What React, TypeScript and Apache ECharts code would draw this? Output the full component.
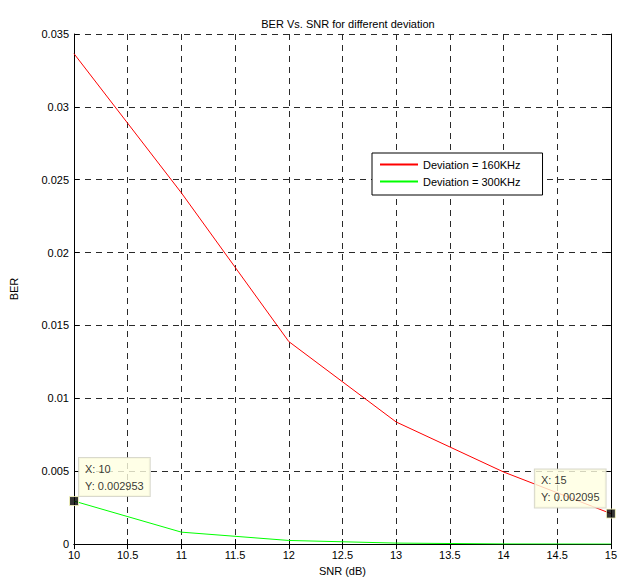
import React, { useEffect, useRef } from "react";
import * as echarts from "echarts";

const snr = [10, 11, 12, 13, 14, 15];
const ber160 = [0.03365, 0.0241, 0.0139, 0.00838, 0.00495, 0.002095];
const ber300 = [0.002953, 0.00082, 0.00025, 0.00007, 0.000012, 0.0000015];
const series160Name = "Deviation = 160KHz";
const series300Name = "Deviation = 300KHz";
const tipPoints = [
  { x: 10, y: 0.002953, label: "X: 10\nY: 0.002953" },
  { x: 15, y: 0.002095, label: "X: 15\nY: 0.002095" },
];

const FONT = "Liberation Sans, Arial, Helvetica, sans-serif";

export default function App() {
  const ref = useRef<HTMLDivElement>(null);
  useEffect(() => {
    if (!ref.current) return;
    const chart = echarts.init(ref.current, undefined, { renderer: "svg" });
    const gridLine = { show: true, lineStyle: { color: "#2a2a2a", type: [6, 5], width: 1 } };
    const axisLine = { show: true, lineStyle: { color: "#000", width: 1 } };
    const tick = { show: true, inside: true, length: 5, lineStyle: { color: "#000" } };
    chart.setOption({
      animation: false,
      backgroundColor: "#fff",
      textStyle: { fontFamily: FONT },
      title: {
        text: "BER Vs. SNR for different deviation",
        left: 343,
        top: 13,
        textAlign: "center",
        textStyle: { fontSize: 11, fontWeight: "normal", color: "#000", fontFamily: FONT },
      },
      grid: { left: 73, right: 6, top: 34, bottom: 34 },
      legend: {
        data: [series160Name, series300Name],
        orient: "vertical",
        left: 372,
        top: 153,
        icon: "rect",
        backgroundColor: "#fff",
        borderColor: "#000",
        borderWidth: 1,
        borderRadius: 0,
        padding: [6, 22, 8, 8],
        itemGap: 6,
        itemWidth: 38,
        itemHeight: 2,
        textStyle: { fontSize: 11, color: "#000", fontFamily: FONT },
      },
      xAxis: [
        {
          type: "value",
          min: 10,
          max: 15,
          interval: 0.5,
          name: "SNR (dB)",
          nameLocation: "middle",
          nameGap: 20,
          nameTextStyle: { fontSize: 11, color: "#000", fontFamily: FONT },
          axisLine,
          axisTick: tick,
          axisLabel: { fontSize: 11, color: "#000", margin: 5, fontFamily: FONT },
          splitLine: gridLine,
        },
        {
          type: "value",
          position: "top",
          min: 10,
          max: 15,
          interval: 0.5,
          axisLine,
          axisTick: tick,
          axisLabel: { show: false },
          splitLine: { show: false },
        },
      ],
      yAxis: [
        {
          type: "value",
          min: 0,
          max: 0.035,
          interval: 0.005,
          name: "BER",
          nameLocation: "middle",
          nameGap: 55,
          nameRotate: 90,
          nameTextStyle: { fontSize: 11, color: "#000", fontFamily: FONT },
          axisLine,
          axisTick: tick,
          axisLabel: { fontSize: 11, color: "#000", margin: 5, fontFamily: FONT },
          splitLine: gridLine,
        },
        {
          type: "value",
          position: "right",
          min: 0,
          max: 0.035,
          interval: 0.005,
          axisLine,
          axisTick: tick,
          axisLabel: { show: false },
          splitLine: { show: false },
        },
      ],
      series: [
        {
          name: series160Name,
          type: "line",
          symbol: "none",
          data: snr.map((x, i) => [x, ber160[i]]),
          lineStyle: { color: "#ff0000", width: 1 },
          itemStyle: { color: "#ff0000" },
        },
        {
          name: series300Name,
          type: "line",
          symbol: "none",
          data: snr.map((x, i) => [x, ber300[i]]),
          lineStyle: { color: "#00ff00", width: 1 },
          itemStyle: { color: "#00ff00" },
        },
        {
          name: "datatips",
          type: "scatter",
          clip: false,
          symbol: "rect",
          symbolSize: 9,
          z: 5,
          itemStyle: { color: "#000", borderColor: "#ffffc0", borderWidth: 1 },
          data: tipPoints.map((p, i) => ({
            value: [p.x, p.y],
            label: {
              show: true,
              formatter: p.label,
              position: i === 0 ? [10, -38] : [-71, -39],
              align: "left",
              verticalAlign: "top",
              fontSize: 11,
              lineHeight: 17,
              color: "#000",
              fontFamily: FONT,
              backgroundColor: "#ffffe1",
              borderColor: "#d0d0c0",
              borderWidth: 1,
              padding: [2, 6, 2, 6],
            },
          })),
        },
      ],
    });
    return () => chart.dispose();
  }, []);
  return (
    <div
      ref={ref}
      style={{ position: "fixed", left: 0, top: 0, width: 620, height: 581 }}
    />
  );
}
